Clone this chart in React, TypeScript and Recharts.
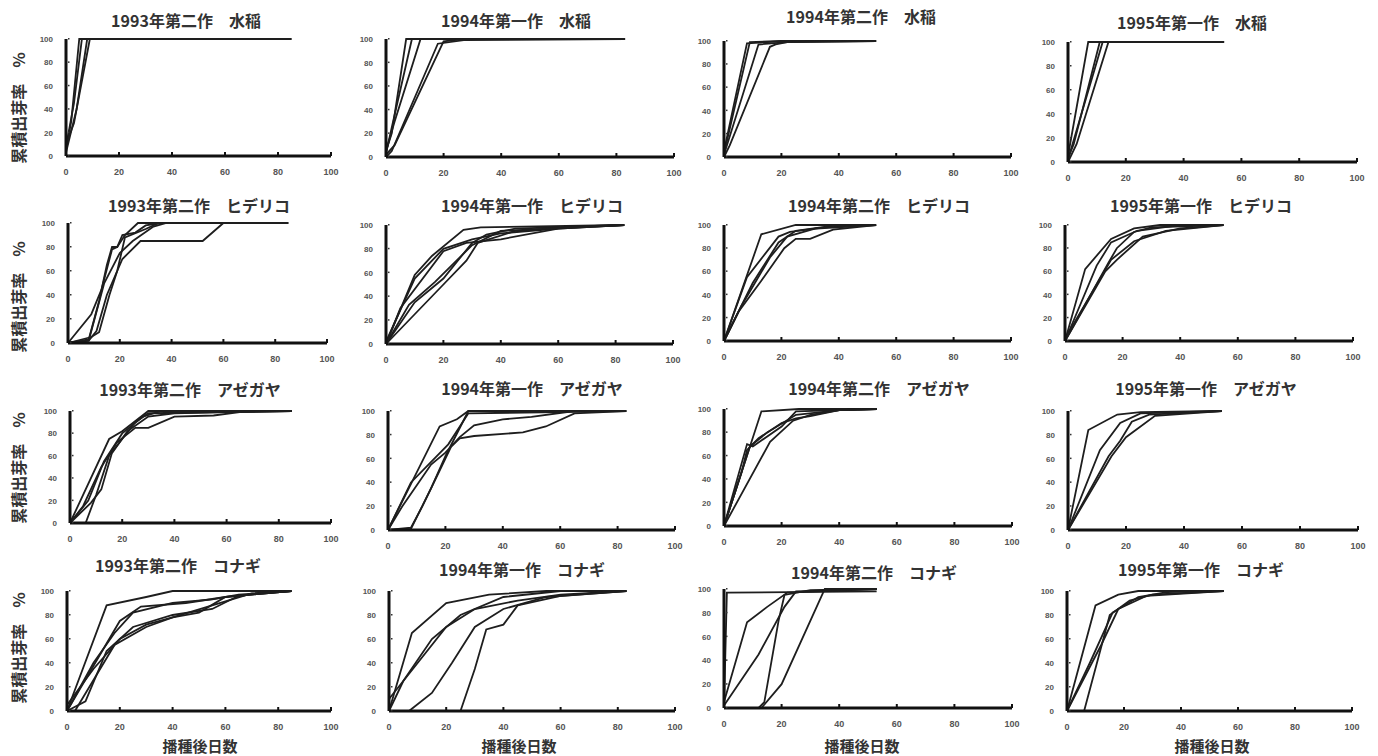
import React from 'react';
import { LineChart, Line, XAxis, YAxis } from 'recharts';

type Series = number[][];

// ---- tick labels / categories ----
const xTicks = [0, 20, 40, 60, 80, 100];
const yTicks = [0, 20, 40, 60, 80, 100];
const seasons = ['1993年第二作', '1994年第一作', '1994年第二作', '1995年第一作'];
const weeds = ['水稲', 'ヒデリコ', 'アゼガヤ', 'コナギ'];
const yLabel = '累積出芽率　%';
const xLabel = '播種後日数';

// ---- series values: [day after sowing, cumulative emergence %] ----
const rice93b: Series[] = [
  [[0, 5], [2, 30], [5, 100], [85, 100]],
  [[0, 8], [3, 45], [6, 100], [85, 100]],
  [[0, 3], [4, 40], [8, 100], [85, 100]],
  [[0, 10], [3, 28], [9, 100], [85, 100]],
];
const rice94a: Series[] = [
  [[0, 5], [2, 20], [7, 100], [83, 100]],
  [[0, 3], [2, 25], [9, 100], [83, 100]],
  [[0, 5], [3, 30], [12, 100], [83, 100]],
  [[0, 0], [2, 5], [18, 96], [27, 99], [83, 100]],
  [[0, 2], [3, 10], [20, 98], [27, 100], [83, 100]],
];
const rice94b: Series[] = [
  [[0, 5], [8, 98], [22, 100], [53, 100]],
  [[0, 3], [9, 99], [20, 100], [53, 100]],
  [[0, 2], [12, 97], [22, 99], [53, 100]],
  [[0, 0], [2, 10], [16, 95], [18, 97], [22, 99], [53, 100]],
];
const rice95a: Series[] = [
  [[0, 5], [7, 100], [54, 100]],
  [[0, 3], [2, 15], [11, 100], [54, 100]],
  [[0, 2], [12, 100], [54, 100]],
  [[0, 0], [3, 15], [14, 100], [54, 100]],
];
const hide93b: Series[] = [
  [[0, 0], [9, 24], [13, 45], [17, 78], [19, 80], [22, 90], [27, 100], [85, 100]],
  [[0, 0], [8, 2], [11, 10], [15, 40], [21, 70], [28, 85], [52, 85], [60, 100], [85, 100]],
  [[0, 0], [8, 3], [12, 35], [15, 65], [17, 80], [19, 80], [21, 90], [26, 92], [30, 98], [36, 100], [85, 100]],
  [[0, 0], [9, 5], [12, 9], [16, 40], [19, 60], [22, 88], [30, 95], [35, 100], [85, 100]],
  [[0, 0], [8, 2], [14, 50], [20, 75], [25, 85], [33, 97], [38, 100], [85, 100]],
];
const hide94a: Series[] = [
  [[0, 0], [10, 58], [16, 74], [27, 96], [33, 98], [83, 100]],
  [[0, 2], [10, 55], [20, 80], [30, 88], [40, 93], [60, 97], [83, 100]],
  [[0, 0], [5, 30], [20, 78], [28, 85], [40, 88], [60, 97], [83, 100]],
  [[0, 0], [10, 35], [20, 55], [30, 85], [35, 92], [45, 97], [83, 100]],
  [[0, 0], [10, 25], [20, 50], [28, 70], [32, 85], [45, 95], [70, 99], [83, 100]],
  [[0, 0], [8, 33], [17, 52], [30, 83], [40, 95], [83, 100]],
];
const hide94b: Series[] = [
  [[0, 0], [13, 92], [25, 100], [53, 100]],
  [[0, 0], [8, 55], [19, 90], [23, 94], [35, 98], [53, 100]],
  [[0, 0], [10, 50], [19, 85], [25, 95], [40, 100], [53, 100]],
  [[0, 0], [5, 25], [13, 52], [21, 80], [25, 88], [30, 88], [38, 96], [53, 100]],
  [[0, 0], [6, 30], [16, 72], [22, 90], [32, 97], [53, 100]],
];
const hide95a: Series[] = [
  [[0, 0], [7, 62], [16, 88], [24, 97], [33, 100], [55, 100]],
  [[0, 0], [11, 65], [16, 85], [25, 95], [40, 100], [55, 100]],
  [[0, 0], [15, 67], [18, 80], [24, 94], [30, 98], [55, 100]],
  [[0, 0], [14, 60], [18, 70], [27, 90], [40, 97], [55, 100]],
  [[0, 2], [16, 70], [24, 86], [35, 95], [55, 100]],
];
const aze93b: Series[] = [
  [[0, 0], [15, 75], [20, 82], [30, 100], [85, 100]],
  [[6, 0], [10, 25], [15, 60], [20, 75], [25, 90], [30, 98], [85, 100]],
  [[0, 0], [5, 15], [12, 50], [18, 72], [25, 85], [30, 85], [40, 95], [55, 96], [65, 99], [85, 100]],
  [[0, 0], [7, 20], [13, 55], [20, 80], [28, 95], [35, 100], [85, 100]],
  [[0, 0], [8, 18], [12, 30], [16, 62], [22, 82], [30, 95], [40, 98], [60, 99], [85, 100]],
];
const aze94a: Series[] = [
  [[0, 0], [18, 87], [24, 93], [28, 100], [83, 100]],
  [[0, 0], [8, 40], [21, 72], [28, 98], [83, 100]],
  [[0, 0], [5, 20], [15, 55], [20, 65], [25, 78], [30, 88], [40, 93], [50, 95], [65, 100], [83, 100]],
  [[0, 0], [8, 2], [12, 20], [18, 50], [22, 70], [25, 77], [30, 79], [47, 82], [55, 87], [65, 98], [83, 100]],
  [[0, 0], [8, 1], [15, 35], [20, 62], [28, 100], [83, 100]],
];
const aze94b: Series[] = [
  [[0, 0], [13, 98], [26, 100], [53, 100]],
  [[0, 0], [8, 70], [10, 68], [20, 85], [25, 98], [53, 100]],
  [[0, 0], [9, 68], [15, 80], [25, 95], [40, 99], [53, 100]],
  [[0, 0], [6, 45], [8, 65], [12, 75], [20, 88], [25, 92], [30, 94], [40, 99], [53, 100]],
  [[0, 0], [16, 72], [24, 90], [30, 95], [40, 99], [53, 100]],
];
const aze95a: Series[] = [
  [[0, 0], [7, 84], [17, 97], [25, 99], [53, 100]],
  [[0, 0], [11, 67], [18, 90], [25, 98], [53, 100]],
  [[0, 0], [14, 62], [18, 75], [22, 91], [28, 97], [53, 100]],
  [[0, 0], [15, 62], [20, 78], [30, 96], [53, 100]],
];
const kona93b: Series[] = [
  [[0, 0], [15, 88], [30, 95], [40, 100], [85, 100]],
  [[0, 0], [10, 40], [18, 65], [25, 82], [40, 90], [55, 93], [65, 97], [85, 100]],
  [[0, 5], [10, 35], [20, 60], [30, 72], [40, 78], [50, 82], [60, 95], [85, 100]],
  [[0, 0], [7, 8], [15, 50], [25, 70], [40, 80], [55, 85], [65, 96], [85, 100]],
  [[0, 0], [20, 75], [28, 87], [45, 90], [60, 95], [85, 100]],
  [[3, 0], [18, 55], [30, 70], [40, 78], [55, 88], [70, 98], [85, 100]],
];
const kona94a: Series[] = [
  [[0, 0], [8, 65], [20, 90], [35, 97], [55, 100], [83, 100]],
  [[0, 0], [5, 25], [15, 60], [25, 80], [40, 95], [60, 100], [83, 100]],
  [[0, 10], [10, 40], [20, 70], [30, 85], [45, 92], [60, 97], [83, 100]],
  [[7, 0], [15, 15], [22, 40], [30, 70], [40, 85], [55, 95], [83, 100]],
  [[25, 0], [30, 35], [34, 68], [40, 72], [45, 88], [60, 96], [83, 100]],
];
const kona94b: Series[] = [
  [[0, 0], [1, 97], [53, 98]],
  [[0, 5], [8, 72], [15, 85], [22, 97], [53, 100]],
  [[0, 2], [12, 45], [21, 85], [25, 98], [53, 100]],
  [[12, 0], [14, 5], [19, 74], [21, 95], [30, 99], [53, 100]],
  [[13, 0], [20, 20], [35, 100], [53, 100]],
];
const kona95a: Series[] = [
  [[0, 0], [10, 88], [18, 97], [25, 100], [55, 100]],
  [[0, 0], [8, 40], [16, 82], [25, 95], [35, 99], [55, 100]],
  [[6, 0], [15, 80], [22, 92], [30, 97], [55, 100]],
  [[0, 0], [12, 55], [18, 85], [28, 96], [55, 100]],
];

const panelData: Series[][][] = [
  [rice93b, rice94a, rice94b, rice95a],
  [hide93b, hide94a, hide94b, hide95a],
  [aze93b, aze94a, aze94b, aze95a],
  [kona93b, kona94a, kona94b, kona95a],
];

// ---- layout (pixel boxes of each plot area: x0, x100, yTop(100), yBottom(0)) ----
const plotBoxes = [
  [[66, 331, 39, 156], [386, 674, 39, 157], [724, 1011, 41, 157], [1068, 1357, 42, 162]],
  [[68, 327, 223, 343], [386, 673, 225, 344], [724, 1011, 225, 341], [1065, 1353, 225, 341]],
  [[70, 331, 411, 523], [388, 675, 411, 530], [724, 1012, 409, 526], [1068, 1358, 411, 530]],
  [[67, 331, 591, 711], [389, 675, 591, 711], [724, 1012, 589, 708], [1067, 1352, 591, 711]],
];
const titlePos = [
  [[186, 20], [516, 20], [861, 16], [1192, 22]],
  [[199, 205], [532, 205], [879, 205], [1201, 205]],
  [[190, 389], [532, 388], [879, 388], [1206, 388]],
  [[178, 565], [522, 569], [874, 572], [1201, 569]],
];
const yLabelCenters = [108, 297, 468, 648];
const xLabelCenters = [200, 519, 862, 1212];

const ML = 34;
const MT = 8;
const MR = 10;
const XH = 26;

const tickFont = '"Liberation Sans", Arial, sans-serif';
const titleFont = '"Noto Sans CJK JP", "Noto Sans", sans-serif';

const XTick = (props: any) => {
  const { x, y, payload } = props;
  return (
    <g>
      <line x1={x} x2={x} y1={y - 4} y2={y} stroke="#111" strokeWidth={2} />
      <text x={x} y={y + 19} textAnchor="middle" fontSize={9} fontWeight="bold" fill="#555" fontFamily={tickFont}>
        {payload.value}
      </text>
    </g>
  );
};

const YTick = (props: any) => {
  const { x, y, payload } = props;
  return (
    <g>
      <rect x={x + 2} y={y - 1} width={1.5} height={1.5} fill="#333" />
      <text x={x - 13} y={y + 3} textAnchor="end" fontSize={8} fontWeight="bold" fill="#555" fontFamily={tickFont}>
        {payload.value}
      </text>
    </g>
  );
};

function Panel({ series, box }: { series: Series[]; box: number[] }) {
  const [x0, x100, yTop, yBot] = box;
  const w = x100 - x0 + ML + MR;
  const h = yBot - yTop + MT + XH;
  return (
    <div style={{ position: 'absolute', left: x0 - ML, top: yTop - MT, width: w, height: h }}>
      <LineChart width={w} height={h} margin={{ top: MT, right: MR, left: 0, bottom: 0 }}>
        <XAxis
          dataKey="x"
          type="number"
          domain={[0, 100]}
          ticks={xTicks}
          interval={0}
          height={XH}
          tickSize={0}
          tickMargin={0}
          tick={<XTick />}
          tickLine={false}
          axisLine={{ stroke: '#111', strokeWidth: 3 }}
          allowDuplicatedCategory={false}
        />
        <YAxis
          type="number"
          domain={[0, 100]}
          ticks={yTicks}
          interval={0}
          width={ML}
          tickSize={0}
          tickMargin={0}
          tick={<YTick />}
          tickLine={false}
          axisLine={{ stroke: '#111', strokeWidth: 3 }}
        />
        {series.map((s, i) => (
          <Line
            key={i}
            data={s.map(([x, y]) => ({ x, y }))}
            dataKey="y"
            type="linear"
            stroke="#1e1e1e"
            strokeWidth={1.8}
            dot={false}
            activeDot={false}
            isAnimationActive={false}
          />
        ))}
      </LineChart>
    </div>
  );
}

const textStyle = {
  position: 'absolute' as const,
  whiteSpace: 'nowrap' as const,
  fontFamily: titleFont,
  fontWeight: 700,
  fontSize: 16,
  color: '#333',
  lineHeight: 1,
};

export default function App() {
  return (
    <div style={{ position: 'absolute', left: 0, top: 0, width: 1378, height: 756, background: '#fff', overflow: 'hidden' }}>
      {panelData.map((row, r) =>
        row.map((series, c) => (
          <React.Fragment key={`${r}-${c}`}>
            <Panel series={series} box={plotBoxes[r][c]} />
            <div
              style={{
                ...textStyle,
                left: titlePos[r][c][0],
                top: titlePos[r][c][1],
                transform: 'translate(-50%, -50%)',
              }}
            >
              {`${seasons[c]}　${weeds[r]}`}
            </div>
          </React.Fragment>
        ))
      )}
      {yLabelCenters.map((cy, i) => (
        <div
          key={`yl${i}`}
          style={{
            ...textStyle,
            left: 18,
            top: cy,
            transform: 'translate(-50%, -50%) rotate(-90deg)',
          }}
        >
          {yLabel}
        </div>
      ))}
      {xLabelCenters.map((cx, i) => (
        <div
          key={`xl${i}`}
          style={{
            ...textStyle,
            fontSize: 15,
            left: cx,
            top: 745,
            transform: 'translate(-50%, -50%)',
          }}
        >
          {xLabel}
        </div>
      ))}
    </div>
  );
}
